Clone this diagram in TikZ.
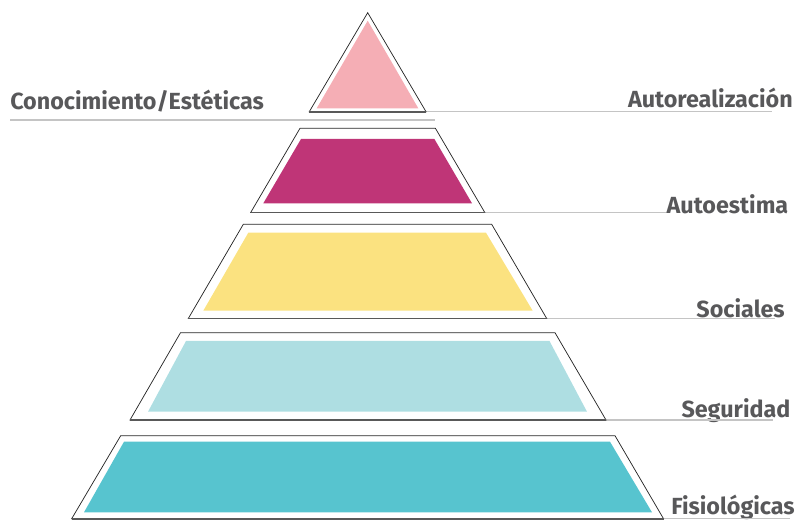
\documentclass[tikz,border=0pt]{standalone}
\usepackage{fontspec}
\setmainfont{Fira Sans}
\usetikzlibrary{calc}
\definecolor{tierPink}{HTML}{F5AEB5}
\definecolor{tierMagenta}{HTML}{BF3577}
\definecolor{tierYellow}{HTML}{FBE280}
\definecolor{tierSky}{HTML}{AEDEE2}
\definecolor{tierTeal}{HTML}{57C4CF}
\definecolor{labelGray}{HTML}{58585A}
\definecolor{lineGray}{HTML}{C4C4C4}

\begin{document}
\begin{tikzpicture}[x=0.75pt,y=-0.75pt,
	shell/.style={draw=black!85, line width=0.55pt, line join=miter},
	floor/.style={draw=black!65, line width=1.3pt},
	guide/.style={draw=lineGray, line width=0.8pt},
	tag/.style={font=\bfseries\fontsize{17.5}{20}\selectfont, text=labelGray, inner sep=0pt, anchor=base east}]
		%%%%% START %%%%%
		\useasboundingbox (0, 0) rectangle (797, 520);
		
		% corners where the guide lines leave the pyramid
		\coordinate (t1r) at (426, 111.7);
		\coordinate (t2r) at (484.8, 212.5);
		\coordinate (t3r) at (546.7, 318.5);
		\coordinate (t4r) at (606, 420);
		\coordinate (t5r) at (663.5, 518.7);
		
		% labels
		\node[tag, anchor=base west] (cono) at (10, 110) {Conocimiento/Estéticas};
		\node[tag] (autoreal) at (793, 107.7) {Autorealización};
		\node[tag] (autoest) at (788.5, 213.3) {Autoestima};
		\node[tag] (social) at (785, 317.3) {Sociales};
		\node[tag] (segur) at (790.7, 417.3) {Seguridad};
		\node[tag] (fisio) at (795, 515) {Fisiológicas};
		
		% guide lines
		\coordinate (c1) at (10, 120);
		\coordinate (c2) at (435, 120);
		\draw[guide] (c1) -- (c2);
		\draw[guide] (t1r) -- (772, 111.7) coordinate (e1);
		\draw[guide] (t2r) -- (autoest.base west |- t2r) coordinate (e2);
		\draw[guide] (t3r) -- (775, 318.5) coordinate (e3);
		\draw[guide] (t4r) -- (773, 420) coordinate (e4);
		\draw[guide] (t5r) -- (790, 518.7) coordinate (e5);
		
		% tier 1 (top)
		\draw[shell] (367.7, 12.7) -- (t1r) -- (309.3, 111.7) -- cycle;
		\draw[floor] (309.3, 111.7) -- (t1r);
		\fill[tierPink] (367.7, 20.7) -- (418.3, 108.3) -- (316.7, 108.3) -- cycle;
		
		% tier 2
		\draw[shell] (300, 128.3) -- (435.4, 128.3) -- (t2r) -- (250.7, 212.5) -- cycle;
		\draw[floor] (250.7, 212.5) -- (t2r);
		\fill[tierMagenta] (301, 139) -- (434.4, 139) -- (472, 203.3) -- (263.3, 203.3) -- cycle;
		
		% tier 3
		\draw[shell] (243.3, 224.3) -- (491.7, 224.3) -- (t3r) -- (188.3, 318.5) -- cycle;
		\draw[floor] (188.3, 318.5) -- (t3r);
		\fill[tierYellow] (248.3, 232.7) -- (486, 232.7) -- (532.7, 310.7) -- (203.3, 310.7) -- cycle;
		
		% tier 4
		\draw[shell] (180.5, 332.7) -- (555, 332.7) -- (t4r) -- (130, 420) -- cycle;
		\draw[floor] (130, 420) -- (t4r);
		\fill[tierSky] (186, 341) -- (549.5, 341) -- (587, 411.7) -- (148, 411.7) -- cycle;
		
		% tier 5 (base)
		\draw[shell] (120.7, 435.7) -- (615, 435.7) -- (t5r) -- (71.7, 518.7) -- cycle;
		\draw[floor] (71.7, 518.7) -- (t5r);
		\fill[tierTeal] (124, 441.7) -- (610, 441.7) -- (652, 512.3) -- (84, 512.3) -- cycle;
		
		%%%%% END %%%%%
\end{tikzpicture}
\end{document}
